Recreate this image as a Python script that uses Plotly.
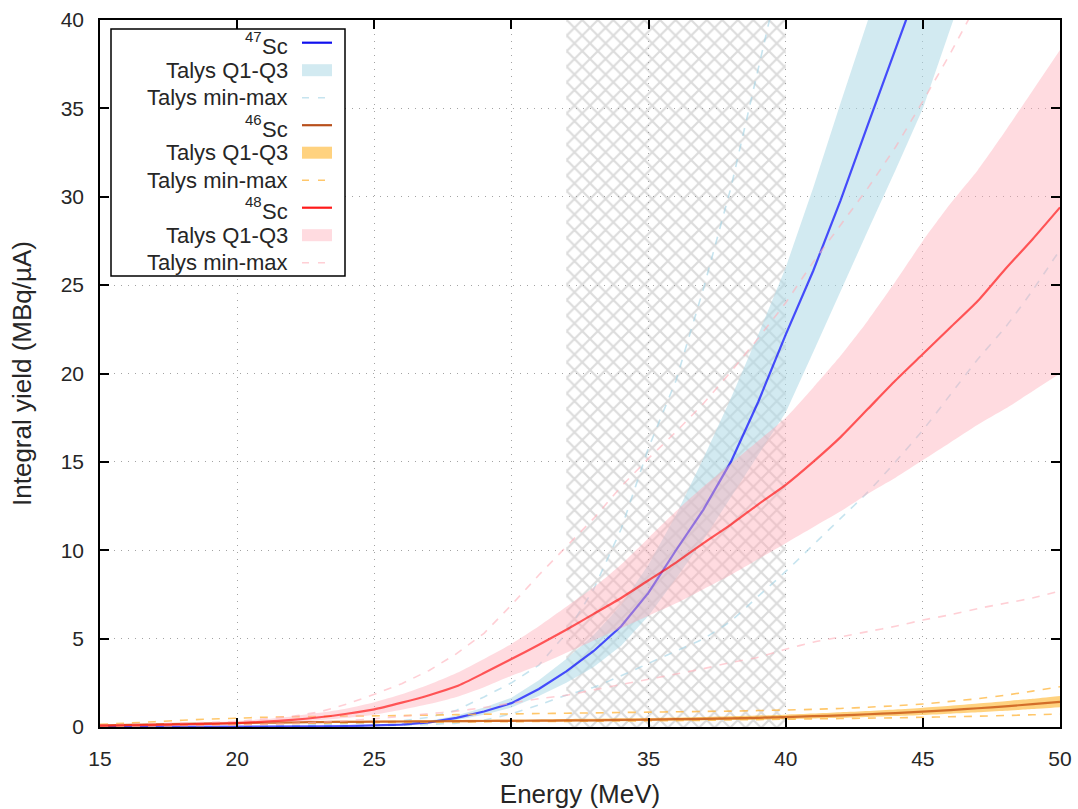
import plotly.graph_objects as go

# ---------------- data ----------------
energy = [15, 16, 17, 18, 19, 20, 21, 22, 23, 24, 25, 26, 27, 28, 29, 30, 31, 32,
          33, 34, 35, 36, 37, 38, 39, 40, 41, 42, 43, 44, 45, 46, 47, 48, 49, 50]

sc47 = [0.0, 0.0, 0.0, 0.0, 0.0, 0.01, 0.01, 0.02, 0.03, 0.05, 0.08, 0.14, 0.26, 0.52, 0.88, 1.35,
        2.15, 3.15, 4.3, 5.7, 7.6, 10.0, 12.3, 15.0, 18.4, 22.2, 25.8, 29.8, 34.1, 38.3, 42.6,
        47.0, 51.5, 56.0, 60.5, 65.0]
sc47_q1 = [0.0, 0.0, 0.0, 0.0, 0.0, 0.01, 0.01, 0.01, 0.02, 0.03, 0.05, 0.1, 0.2, 0.4, 0.7, 1.1,
           1.75, 2.5, 3.4, 4.6, 6.3, 8.4, 10.6, 13.0, 15.4, 17.8, 21.2, 24.7, 28.1, 31.5, 35.0,
           39.5, 44.0, 48.5, 53.0, 57.5]
sc47_q3 = [0.0, 0.0, 0.0, 0.0, 0.0, 0.01, 0.02, 0.03, 0.04, 0.07, 0.11, 0.19, 0.35, 0.65, 1.1, 1.65,
           2.65, 3.85, 5.2, 6.9, 9.2, 12.0, 15.2, 18.6, 22.2, 26.0, 30.5, 35.3, 40.0, 45.0, 50.0,
           55.0, 60.0, 65.0, 70.0, 75.0]
sc47_min = [0.0, 0.0, 0.0, 0.0, 0.0, 0.0, 0.01, 0.02, 0.03, 0.05, 0.07, 0.1, 0.15, 0.22, 0.4, 0.75,
            1.25, 1.8, 2.25, 2.9, 3.6, 4.3, 5.0, 6.0, 7.4, 8.8, 10.3, 11.8, 13.3, 15.0, 16.8,
            18.8, 20.8, 22.6, 24.7, 27.0]
sc47_max = [0.0, 0.0, 0.0, 0.01, 0.01, 0.02, 0.04, 0.07, 0.12, 0.18, 0.25, 0.35, 0.55, 0.95, 1.7, 2.5,
            3.5, 5.3, 7.8, 11.2, 15.8, 19.6, 24.8, 30.5, 37.2, 44.0, 50.0, 56.0, 62.0, 68.0, 74.0,
            80.0, 86.0, 92.0, 98.0, 104.0]

sc46 = [0.08, 0.12, 0.15, 0.18, 0.2, 0.22, 0.24, 0.26, 0.28, 0.29, 0.3, 0.31, 0.32, 0.33, 0.34, 0.35,
        0.36, 0.37, 0.38, 0.4, 0.42, 0.44, 0.46, 0.49, 0.52, 0.56, 0.61, 0.66, 0.72, 0.79, 0.87,
        0.96, 1.06, 1.17, 1.29, 1.42]
sc46_q1 = [0.06, 0.1, 0.12, 0.15, 0.16, 0.17, 0.19, 0.21, 0.23, 0.24, 0.25, 0.26, 0.27, 0.27, 0.28, 0.29,
           0.3, 0.3, 0.31, 0.32, 0.34, 0.35, 0.37, 0.39, 0.41, 0.44, 0.48, 0.52, 0.57, 0.62, 0.68,
           0.75, 0.83, 0.92, 1.02, 1.12]
sc46_q3 = [0.1, 0.14, 0.18, 0.21, 0.24, 0.27, 0.29, 0.31, 0.33, 0.35, 0.36, 0.37, 0.38, 0.4, 0.41, 0.42,
           0.43, 0.45, 0.46, 0.49, 0.51, 0.54, 0.57, 0.61, 0.65, 0.7, 0.76, 0.83, 0.9, 0.99, 1.09,
           1.2, 1.33, 1.46, 1.6, 1.76]
sc46_min = [0.03, 0.05, 0.08, 0.1, 0.13, 0.15, 0.17, 0.2, 0.22, 0.23, 0.25, 0.26, 0.27, 0.28, 0.29, 0.3,
            0.31, 0.32, 0.33, 0.34, 0.35, 0.36, 0.38, 0.4, 0.42, 0.44, 0.46, 0.48, 0.5, 0.52, 0.55,
            0.58, 0.61, 0.65, 0.69, 0.73]
sc46_max = [0.15, 0.22, 0.3, 0.38, 0.45, 0.5, 0.55, 0.58, 0.6, 0.62, 0.63, 0.65, 0.67, 0.7, 0.72, 0.74,
            0.76, 0.78, 0.8, 0.82, 0.84, 0.86, 0.88, 0.9, 0.93, 0.96, 1.0, 1.05, 1.12, 1.2, 1.3,
            1.45, 1.6, 1.8, 2.03, 2.28]

sc48 = [0.08, 0.1, 0.12, 0.15, 0.18, 0.22, 0.3, 0.4, 0.55, 0.75, 1.0, 1.38, 1.8, 2.3, 3.05, 3.85,
        4.65, 5.5, 6.4, 7.3, 8.3, 9.3, 10.4, 11.45, 12.6, 13.7, 15.0, 16.4, 18.0, 19.6, 21.1,
        22.6, 24.1, 25.9, 27.6, 29.4]
sc48_q1 = [0.05, 0.07, 0.09, 0.11, 0.13, 0.16, 0.21, 0.28, 0.38, 0.52, 0.7, 0.98, 1.3, 1.7, 2.25, 2.9,
           3.5, 4.2, 4.9, 5.6, 6.3, 7.0, 7.8, 8.6, 9.5, 10.4, 11.3, 12.2, 13.2, 14.1, 15.1,
           16.1, 17.1, 18.0, 19.0, 20.0]
sc48_q3 = [0.1, 0.13, 0.17, 0.21, 0.27, 0.34, 0.45, 0.6, 0.8, 1.05, 1.4, 1.85, 2.4, 3.05, 3.85, 4.7,
           5.7, 6.8, 7.9, 9.2, 10.7, 12.2, 13.6, 14.9, 16.2, 17.5, 19.2, 21.0, 23.0, 25.2, 27.5,
           29.6, 31.5, 33.7, 36.0, 38.3]
sc48_min = [0.02, 0.03, 0.05, 0.07, 0.08, 0.1, 0.15, 0.2, 0.27, 0.35, 0.47, 0.6, 0.75, 0.9, 1.1, 1.35,
            1.6, 1.8, 2.1, 2.4, 2.7, 3.0, 3.3, 3.65, 3.95, 4.4, 4.8, 5.1, 5.4, 5.7, 6.05,
            6.35, 6.7, 7.0, 7.3, 7.7]
sc48_max = [0.1, 0.13, 0.17, 0.21, 0.26, 0.32, 0.45, 0.6, 0.85, 1.3, 1.85, 2.45, 3.2, 4.15, 5.3, 6.9,
            8.6, 10.2, 11.8, 13.6, 15.2, 16.7, 18.3, 20.1, 22.0, 24.0, 26.3, 28.4, 30.5, 32.8, 35.4,
            38.1, 41.0, 44.0, 47.0, 50.0]

hatch_energy = [32, 40]           # hatched energy window
y_range = [0, 40]
x_range = [15, 50]
x_ticks = [15, 20, 25, 30, 35, 40, 45, 50]
y_ticks = [0, 5, 10, 15, 20, 25, 30, 35, 40]

isotopes = ["47", "46", "48"]
band_label = "Talys Q1-Q3"
minmax_label = "Talys min-max"

# ---------------- styles ----------------
FONT = "Liberation Sans, Arial, sans-serif"
TXT = "#262626"
series = [
    dict(y=sc47, q1=sc47_q1, q3=sc47_q3, lo=sc47_min, hi=sc47_max,
         line="rgba(0,0,255,0.68)", legline="#1010ee",
         band="rgba(173,216,230,0.55)", dash="rgba(160,210,228,0.6)"),
    dict(y=sc46, q1=sc46_q1, q3=sc46_q3, lo=sc46_min, hi=sc46_max,
         line="rgba(200,85,20,0.8)", legline="#b8501c",
         band="rgba(255,165,0,0.5)", dash="rgba(255,185,70,0.8)"),
    dict(y=sc48, q1=sc48_q1, q3=sc48_q3, lo=sc48_min, hi=sc48_max,
         line="rgba(255,0,0,0.62)", legline="#ff1a1a",
         band="rgba(255,170,182,0.42)", dash="rgba(255,175,185,0.6)"),
]
TOP = y_range[1]


def cut(xs, ys):
    """keep the points up to (and including) the first one above the visible range"""
    for i, v in enumerate(ys):
        if v > TOP:
            return list(xs[:i + 1]), list(ys[:i + 1]), True
    return list(xs), list(ys), False


def shape_of(clipped):
    return dict(shape="linear") if clipped else dict(shape="spline", smoothing=0.6)


fig = go.Figure()

# hatched window (below everything)
hx = [hatch_energy[0], hatch_energy[1], hatch_energy[1], hatch_energy[0], hatch_energy[0]]
hy = [y_range[0], y_range[0], y_range[1], y_range[1], y_range[0]]
fig.add_trace(go.Scatter(
    x=hx, y=hy, mode="lines", fill="toself", line=dict(width=0),
    fillcolor="rgba(0,0,0,0)",
    fillpattern=dict(shape="x", size=11, solidity=0.35,
                     fgcolor="rgba(140,140,140,0.62)", bgcolor="rgba(255,255,255,0)"),
    hoverinfo="skip", showlegend=False))

for s in series:
    x1, y1, c1 = cut(energy, s["q1"])
    x3, y3, c3 = cut(energy, s["q3"])
    if c1 or c3:
        fig.add_trace(go.Scatter(x=x1 + x3[::-1], y=y1 + y3[::-1], mode="lines",
                                 line=dict(width=0), fill="toself", fillcolor=s["band"],
                                 showlegend=False, hoverinfo="skip"))
    else:
        fig.add_trace(go.Scatter(x=x1, y=y1, mode="lines", line=dict(width=0, **shape_of(False)),
                                 showlegend=False, hoverinfo="skip"))
        fig.add_trace(go.Scatter(x=x3, y=y3, mode="lines", line=dict(width=0, **shape_of(False)),
                                 fill="tonexty", fillcolor=s["band"], showlegend=False, hoverinfo="skip"))
    for arr in (s["lo"], s["hi"]):
        xd, yd, cd = cut(energy, arr)
        fig.add_trace(go.Scatter(x=xd, y=yd, mode="lines",
                                 line=dict(color=s["dash"], width=1.6, dash="8px,8px", **shape_of(cd)),
                                 showlegend=False, hoverinfo="skip"))
    xl, yl, cl = cut(energy, s["y"])
    fig.add_trace(go.Scatter(x=xl, y=yl, mode="lines",
                             line=dict(color=s["line"], width=2.2, **shape_of(cl)),
                             showlegend=False))

# ---------------- custom legend (symbols on the right, gnuplot style) ----------------
plot_l, plot_r, plot_t, plot_b = 100, 1060, 20, 727
W, H = plot_r - plot_l, plot_b - plot_t


def px(xp):
    return (xp - plot_l) / W


def py(yp):
    return (plot_b - yp) / H


def text(xp, yp, t, size, anchor="right"):
    fig.add_annotation(x=px(xp), y=py(yp), xref="paper", yref="paper", text=t,
                       showarrow=False, xanchor=anchor, yanchor="middle",
                       font=dict(family=FONT, size=size, color=TXT))


box = dict(x0=111, x1=345, y0=29, y1=276)
fig.add_shape(type="rect", xref="paper", yref="paper",
              x0=px(box["x0"]), x1=px(box["x1"]), y0=py(box["y1"]), y1=py(box["y0"]),
              line=dict(color="black", width=1.5), fillcolor="white", layer="above")

row0, row_step = 42.7, 27.5
text_right, samp_l, samp_r = 290, 302, 332
for k, (iso, s) in enumerate(zip(isotopes, series)):
    # isotope line entry: "Sc" with raised mass number
    yc = row0 + (3 * k) * row_step
    text(text_right, yc + 4, "Sc", 22)
    text(text_right - 26, yc - 6, iso, 15)
    fig.add_shape(type="line", xref="paper", yref="paper",
                  x0=px(samp_l), x1=px(samp_r), y0=py(yc), y1=py(yc),
                  line=dict(color=s["legline"], width=2.2), layer="above")
    # Q1-Q3 band entry
    yc = row0 + (3 * k + 1) * row_step
    text(text_right, yc, band_label, 22)
    fig.add_shape(type="rect", xref="paper", yref="paper",
                  x0=px(samp_l), x1=px(samp_r), y0=py(yc + 6), y1=py(yc - 6),
                  line=dict(width=0), fillcolor=s["band"], layer="above")
    # min-max entry
    yc = row0 + (3 * k + 2) * row_step
    text(text_right, yc, minmax_label, 22)
    fig.add_shape(type="line", xref="paper", yref="paper",
                  x0=px(samp_l), x1=px(samp_r), y0=py(yc), y1=py(yc),
                  line=dict(color=s["dash"], width=1.4, dash="7px,9px"), layer="above")

axis_common = dict(
    showline=True, linecolor="black", linewidth=1.5, mirror="ticks",
    ticks="inside", ticklen=9, tickwidth=1.5, tickcolor="black",
    showgrid=True, gridcolor="rgba(140,140,140,0.8)", gridwidth=1.3, griddash="1px,6px",
    zeroline=False, tickfont=dict(family=FONT, size=21, color=TXT), automargin=False,
)

fig.update_layout(
    width=1078, height=809,
    margin=dict(l=100, r=18, t=20, b=82),
    paper_bgcolor="white", plot_bgcolor="white",
    showlegend=False,
    font=dict(family=FONT, color=TXT, size=21),
    xaxis=dict(range=x_range, tickvals=x_ticks, ticklabelstandoff=12,
               title=dict(text="Energy (MeV)", font=dict(family=FONT, size=26, color=TXT), standoff=16),
               **axis_common),
    yaxis=dict(range=y_range, tickvals=y_ticks, ticklabelstandoff=10,
               title=dict(text="Integral yield (MBq/µA)", font=dict(family=FONT, size=26, color=TXT), standoff=22),
               **axis_common),
)

fig.write_html("out.html")
